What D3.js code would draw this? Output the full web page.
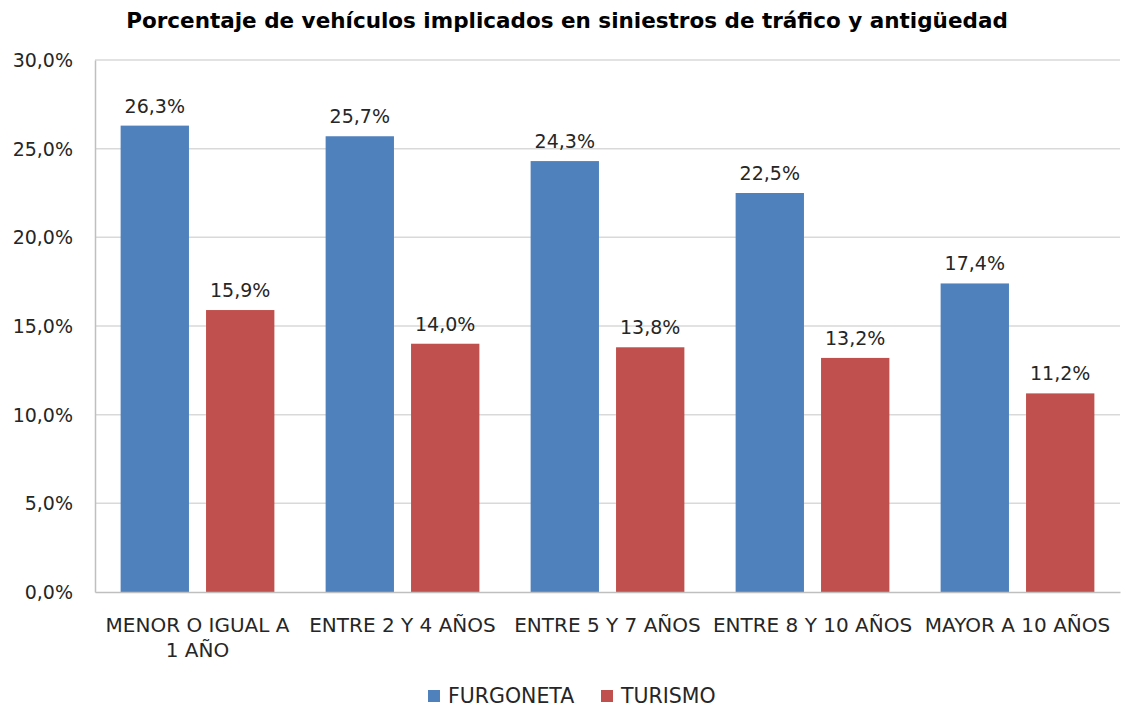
<!DOCTYPE html>
<html>
<head>
<meta charset="utf-8">
<script src="https://cdn.jsdelivr.net/npm/d3@7"></script>
<style>
  body { margin: 0; background: #fff; }
  text { font-family: "DejaVu Sans", sans-serif; fill: #262626; }
</style>
</head>
<body>
<div id="chart"></div>
<script>
const categories = ["MENOR O IGUAL A\n1 AÑO", "ENTRE 2 Y 4 AÑOS", "ENTRE 5 Y 7 AÑOS", "ENTRE 8 Y 10 AÑOS", "MAYOR A 10 AÑOS"];
const seriesNames = ["FURGONETA", "TURISMO"];
const furgoneta = [26.3, 25.7, 24.3, 22.5, 17.4];
const turismo = [15.9, 14.0, 13.8, 13.2, 11.2];
const yTicks = [0, 5, 10, 15, 20, 25, 30];
const colors = ["#4F81BD", "#C0504D"];

const width = 1123, height = 710;
const margin = { top: 60, right: 3, bottom: 118, left: 95 };

const svg = d3.select("#chart").append("svg")
    .attr("width", width)
    .attr("height", height);

const fmt = v => v.toFixed(1).replace(".", ",") + "%";

const x = d3.scaleBand()
    .domain(categories)
    .range([margin.left, width - margin.right])
    .paddingInner(0.25)
    .paddingOuter(0.125);

const x1 = d3.scaleBand()
    .domain(seriesNames)
    .range([0, x.bandwidth()])
    .paddingInner(0.2);

const y = d3.scaleLinear()
    .domain([0, 30])
    .range([height - margin.bottom, margin.top]);

// title
svg.append("text")
    .attr("x", 567)
    .attr("y", 28)
    .attr("text-anchor", "middle")
    .attr("font-size", "21.5px")
    .attr("font-weight", "bold")
    .style("fill", "#000")
    .text("Porcentaje de vehículos implicados en siniestros de tráfico y antigüedad");

// gridlines
svg.append("g")
    .selectAll("line")
    .data(yTicks.filter(d => d > 0))
    .join("line")
    .attr("x1", margin.left)
    .attr("x2", width - margin.right)
    .attr("y1", d => y(d))
    .attr("y2", d => y(d))
    .attr("stroke", "#d9d9d9")
    .attr("stroke-width", 1.5);

// y axis
const yAxis = svg.append("g")
    .attr("transform", `translate(${margin.left},0)`)
    .call(d3.axisLeft(y).tickValues(yTicks).tickFormat(fmt).tickSize(0).tickPadding(22));
yAxis.select(".domain").attr("stroke", "#bfbfbf").attr("stroke-width", 1.5);
yAxis.selectAll("text").attr("font-size", "19px").attr("dy", "0.35em").style("font-family", "'DejaVu Sans', sans-serif");

// bars
const rows = categories.map((c, i) => ({ cat: c, vals: [furgoneta[i], turismo[i]] }));
const groups = svg.append("g")
    .selectAll("g")
    .data(rows)
    .join("g")
    .attr("transform", d => `translate(${x(d.cat)},0)`);

groups.selectAll("rect")
    .data(d => d.vals.map((v, j) => ({ name: seriesNames[j], v, j })))
    .join("rect")
    .attr("x", d => x1(d.name))
    .attr("width", x1.bandwidth())
    .attr("y", d => y(d.v))
    .attr("height", d => y(0) - y(d.v))
    .attr("fill", d => colors[d.j]);

groups.selectAll("text.lbl")
    .data(d => d.vals.map((v, j) => ({ name: seriesNames[j], v, j })))
    .join("text")
    .attr("class", "lbl")
    .attr("x", d => x1(d.name) + x1.bandwidth() / 2)
    .attr("y", d => y(d.v) - 13)
    .attr("text-anchor", "middle")
    .attr("font-size", "19px")
    .text(d => fmt(d.v));

// x axis
const xAxis = svg.append("g")
    .attr("transform", `translate(0,${y(0)})`)
    .call(d3.axisBottom(x).tickSize(0).tickFormat(""));
xAxis.select(".domain").attr("stroke", "#bfbfbf").attr("stroke-width", 1.5);
xAxis.selectAll(".tick").each(function (d) {
    const t = d3.select(this).append("text")
        .attr("text-anchor", "middle")
        .attr("font-size", "20px")
        .style("fill", "#262626");
    d.split("\n").forEach((line, i) => {
        t.append("tspan").attr("x", 0).attr("y", 40 + i * 25).text(line);
    });
});

// legend
const legendX = [428, 601];
const legend = svg.append("g")
    .selectAll("g")
    .data(seriesNames)
    .join("g")
    .attr("transform", (d, i) => `translate(${legendX[i]},690)`);
legend.append("rect")
    .attr("width", 12)
    .attr("height", 12)
    .attr("fill", (d, i) => colors[i]);
legend.append("text")
    .attr("x", 20)
    .attr("y", 13)
    .attr("font-size", "20.5px")
    .text(d => d);
</script>
</body>
</html>
